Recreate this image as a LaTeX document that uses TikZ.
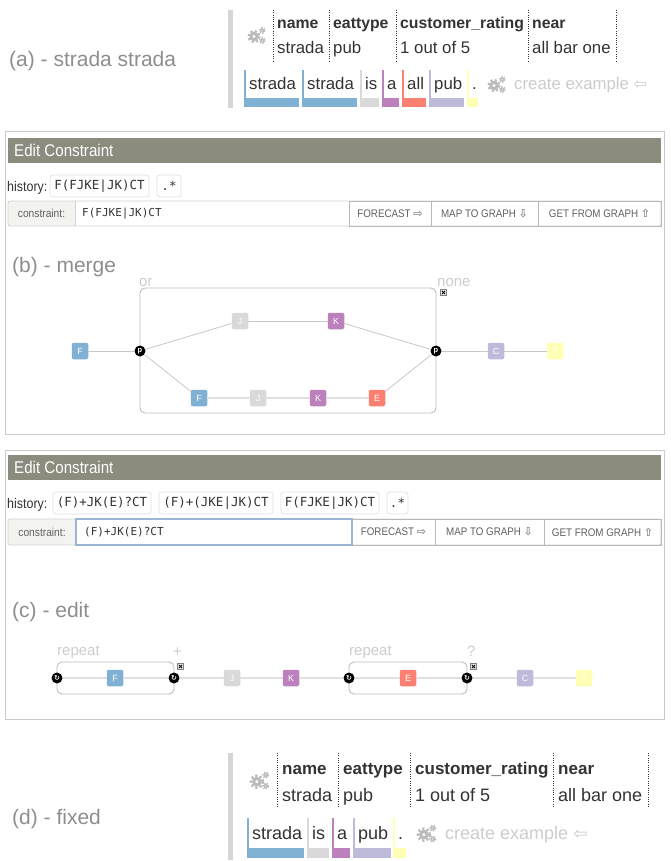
\documentclass[tikz,border=0pt]{standalone}
\usepackage{fontspec}
\setmainfont{Liberation Sans}
\newfontfamily\condfont[FakeStretch=0.89]{Liberation Sans}
\newfontfamily\monofnt{DejaVu Sans Mono}
\newfontfamily\symfnt{DejaVu Sans}
\newcommand\fsz[1]{\fontsize{#1}{#1}\selectfont}
\definecolor{colF}{HTML}{80B1D3}
\definecolor{colJ}{HTML}{D9D9D9}
\definecolor{colK}{HTML}{BC80BD}
\definecolor{colE}{HTML}{FB8072}
\definecolor{colC}{HTML}{BEBADA}
\definecolor{colT}{HTML}{FFFFB3}
\definecolor{hdrbar}{HTML}{8B8B7E}
\definecolor{panelb}{HTML}{CACACA}
\definecolor{labgray}{HTML}{8E8E8E}
\definecolor{faint}{HTML}{CDCDCD}
\definecolor{txt}{HTML}{333333}
\definecolor{cog}{HTML}{BBBBBB}
\definecolor{chipb}{HTML}{E2E2E2}
\definecolor{cellbg}{HTML}{F3F3F0}
\definecolor{rowb}{HTML}{D2D2D2}
\definecolor{btnb}{HTML}{B8B8B8}
\definecolor{btntxt}{HTML}{606060}
\definecolor{fieldb}{HTML}{9DB6D8}
\definecolor{edgeg}{HTML}{C8C8C8}
\definecolor{thickg}{HTML}{E0E0E0}
\definecolor{grpb}{HTML}{BDBDBD}
\definecolor{barg}{HTML}{D6D6D6}
\tikzset{
  plabel/.style={anchor=base west, inner sep=0pt, text=labgray, font=\fsz{21}},
  hdrtext/.style={anchor=base west, inner sep=0pt, text=white, font=\condfont\fsz{17}},
  histtext/.style={anchor=base west, inner sep=0pt, text=txt, font=\condfont\fsz{14}},
  chip/.style={draw=chipb, line width=0.8pt, rounded corners=3pt, minimum height=22pt, inner sep=0pt, text=txt, font=\monofnt\fsz{12.5}},
  celltext/.style={inner sep=0pt, text=btntxt, font=\condfont\fsz{11.5}},
  fieldtext/.style={anchor=west, inner sep=0pt, text=txt, font=\monofnt\fsz{11}},
  btntext/.style={inner sep=0pt, text=btntxt, font=\condfont\fsz{11}},
  gnode/.style={rectangle, rounded corners=2pt, minimum width=16.5pt, minimum height=16.5pt, inner sep=0pt, text=white, font=\fsz{9}},
  junc/.style={circle, fill=black, minimum size=11pt, inner sep=0pt, text=white, font=\bfseries\fsz{7.5}},
  juncc/.style={circle, fill=black, minimum size=11pt, inner sep=0pt, text=white, font=\symfnt\bfseries\fsz{7}},
  edge/.style={draw=edgeg, line width=0.8pt},
  fatedge/.style={draw=thickg, line width=2.4pt},
  grp/.style={draw=grpb, line width=0.9pt, rounded corners=5pt},
  faintlbl/.style={anchor=base west, inner sep=0pt, text=faint, font=\fsz{15}},
  xbox/.style={rectangle, draw=gray, fill=gray!12, line width=0.6pt, minimum size=6.5pt, inner sep=0pt,
    path picture={\draw[black, line width=0.9pt]
      ([shift={(1.6pt,1.6pt)}]path picture bounding box.south west) -- ([shift={(-1.6pt,-1.6pt)}]path picture bounding box.north east)
      ([shift={(1.6pt,-1.6pt)}]path picture bounding box.north west) -- ([shift={(-1.6pt,1.6pt)}]path picture bounding box.south east);}},
  panel/.style={draw=panelb, line width=1pt},
  dotline/.style={draw=txt, line width=0.8pt, dash pattern=on 0.9pt off 1.4pt},
  hdrA/.style={anchor=base west, inner sep=0pt, text=txt, font=\bfseries\fsz{15.8}},
  valA/.style={anchor=base west, inner sep=0pt, text=txt, font=\fsz{16.8}},
  hdrD/.style={anchor=base west, inner sep=0pt, text=txt, font=\bfseries\fsz{17}},
  valD/.style={anchor=base west, inner sep=0pt, text=txt, font=\fsz{18}},
  cogs/.pic={
    \fill[cog, even odd rule] (-2,1.5) circle (4.6) (-2,1.5) circle (1.8);
    \draw[cog, line width=2.4pt, dash pattern=on 2.2pt off 2.2pt] (-2,1.5) circle (5.6);
    \fill[cog, even odd rule] (6.3,-4.6) circle (2.1) (6.3,-4.6) circle (0.8);
    \draw[cog, line width=1.4pt, dash pattern=on 1.4pt off 1.43pt] (6.3,-4.6) circle (2.7);
    \fill[cog, even odd rule] (6.3,5.6) circle (2.1) (6.3,5.6) circle (0.8);
    \draw[cog, line width=1.4pt, dash pattern=on 1.4pt off 1.43pt] (6.3,5.6) circle (2.7);
  }
}
\begin{document}
\begin{tikzpicture}[x=1pt,y=-1pt]
\useasboundingbox (0,0) rectangle (670,861);
\fill[white] (0,0) rectangle (670,861);

% ---------------- (a)
\node[plabel] (la) at (9,66.5) {(a) - strada strada};
\fill[barg] (228,10) rectangle (233,108);
\pic (ga) at (256,35) {cogs};
\foreach \xx in {273,329,396,528,616} { \draw[dotline] (\xx,10) -- (\xx,61); }
\node[hdrA] (ah1) at (277,28.5) {name};
\node[hdrA] (ah2) at (333,28.5) {eattype};
\node[hdrA] (ah3) at (400,28.5) {customer\_rating};
\node[hdrA] (ah4) at (532,28.5) {near};
\node[valA] (av1) at (277,54) {strada};
\node[valA] (av2) at (333,54) {pub};
\node[valA] (av3) at (400,54) {1 out of 5};
\node[valA] (av4) at (532,54) {all bar one};
\foreach \n/\a/\b/\col/\w in {ta1/244/299/colF/strada, ta2/302/357/colF/strada, ta3/360/379/colJ/is, ta4/382/399/colK/a, ta5/402/426/colE/all, ta6/429/464/colC/pub, ta7/467/478/colT/.} {
  \fill[\col] (\a,98) rectangle (\b,107);
  \fill[\col] (\a,70) rectangle (\a+2,107);
  \node[valA] (\n) at (\a+5,89.5) {\w};
}
\pic (gb) at (496,84) {cogs};
\node[anchor=base west, inner sep=0pt, text=faint, font=\fsz{16.8}] (cea) at (514,89.5) {create example {\symfnt\fsz{16}⇦}};

% ---------------- (b)
\draw[panel] (5,132) rectangle (664,434);
\fill[hdrbar] (8,138) rectangle (661,163);
\node[hdrtext] (hdb) at (14,157) {Edit Constraint};
\node[histtext] (hib) at (7,191) {history:};
\node[chip, minimum width=99pt] (hb1) at (99.5,186) {F(FJKE|JK)CT};
\node[chip, minimum width=24pt] (hb2) at (169,186) {.*};
\fill[cellbg] (8,201) rectangle (75,226);
\draw[rowb, line width=0.8pt, rounded corners=2pt] (8,201) rectangle (661,226);
\draw[rowb, line width=0.8pt] (75,201) -- (75,226);
\draw[btnb, line width=0.8pt] (349,201) rectangle (661,226);
\draw[btnb, line width=0.8pt] (431,201) -- (431,226);
\draw[btnb, line width=0.8pt] (538,201) -- (538,226);
\node[celltext] (clb) at (41.5,213.5) {constraint:};
\node[fieldtext] (cfb) at (82,213.5) {F(FJKE|JK)CT};
\node[btntext] (bb1) at (390,213.5) {FORECAST {\symfnt\fsz{11}⇨}};
\node[btntext] (bb2) at (484.5,213.5) {MAP TO GRAPH {\symfnt\fsz{11}⇩}};
\node[btntext] (bb3) at (599.5,213.5) {GET FROM GRAPH {\symfnt\fsz{11}⇧}};

\node[plabel] (lb) at (12,272) {(b) - merge};
\draw[grp] (140,288) rectangle (436,413);
\node[faintlbl] (orl) at (139,286.5) {or};
\node[faintlbl] (nonel) at (437,286.5) {none};
\node[xbox] (xb) at (443.5,292.5) {};
\node[gnode, fill=colF] (bF0) at (80,351) {F};
\node[junc] (bjl) at (140,351) {p};
\node[gnode, fill=colJ] (bJ1) at (240,321) {J};
\node[gnode, fill=colK] (bK1) at (336,321) {K};
\node[gnode, fill=colF] (bF2) at (199,398) {F};
\node[gnode, fill=colJ] (bJ2) at (258,398) {J};
\node[gnode, fill=colK] (bK2) at (318,398) {K};
\node[gnode, fill=colE] (bE2) at (377,398) {E};
\node[junc] (bjr) at (436,351) {p};
\node[gnode, fill=colC] (bC) at (496,351) {C};
\node[gnode, fill=colT] (bT) at (555,351) {T};
\foreach \p/\q in {bF0/bjl, bjl/bJ1, bJ1/bK1, bK1/bjr, bjl/bF2, bE2/bjr, bjr/bC, bC/bT} { \draw[edge] (\p) -- (\q); }
\foreach \p/\q in {bF2/bJ2, bJ2/bK2, bK2/bE2} { \draw[fatedge] (\p) -- (\q); }

% ---------------- (c)
\draw[panel] (5,450) rectangle (664,719);
\fill[hdrbar] (8,455) rectangle (661,480);
\node[hdrtext] (hdc) at (14,473.5) {Edit Constraint};
\node[histtext] (hic) at (7,508) {history:};
\node[chip, minimum width=98pt] (hc1) at (102,503) {(F)+JK(E)?CT};
\node[chip, minimum width=114pt] (hc2) at (216,503) {(F)+(JKE|JK)CT};
\node[chip, minimum width=98pt] (hc3) at (330,503) {F(FJKE|JK)CT};
\node[chip, minimum width=21pt] (hc4) at (397.5,503) {.*};
\fill[cellbg] (8,519) rectangle (76,545);
\draw[rowb, line width=0.8pt, rounded corners=2pt] (8,519) rectangle (661,545);
\draw[btnb, line width=0.8pt] (352,519) rectangle (661,545);
\draw[btnb, line width=0.8pt] (435,519) -- (435,545);
\draw[btnb, line width=0.8pt] (544,519) -- (544,545);
\draw[fieldb, line width=1.3pt] (76,519) rectangle (352,545);
\node[celltext] (clc) at (42,532) {constraint:};
\node[fieldtext] (cfc) at (84,532) {(F)+JK(E)?CT};
\node[btntext] (bc1) at (393.5,532) {FORECAST {\symfnt\fsz{11}⇨}};
\node[btntext] (bc2) at (489.5,532) {MAP TO GRAPH {\symfnt\fsz{11}⇩}};
\node[btntext] (bc3) at (602.5,532) {GET FROM GRAPH {\symfnt\fsz{11}⇧}};

\node[plabel] (lc) at (12,617) {(c) - edit};
\draw[grp] (57,662) rectangle (174,694);
\draw[grp] (349,662) rectangle (467,694);
\node[faintlbl] (rp1) at (57,655.5) {repeat};
\node[faintlbl] (plusl) at (173,656) {+};
\node[xbox] (xc1) at (180.5,666.5) {};
\node[faintlbl] (rp2) at (349,655.5) {repeat};
\node[faintlbl] (ql) at (467,656) {?};
\node[xbox] (xc2) at (473.5,666.5) {};
\node[juncc] (cj1) at (57,678) {↻};
\node[gnode, fill=colF] (cF) at (115,678) {F};
\node[juncc] (cj2) at (174,678) {↻};
\node[gnode, fill=colJ] (cJ) at (232,678) {J};
\node[gnode, fill=colK] (cK) at (291,678) {K};
\node[juncc] (cj3) at (349,678) {↻};
\node[gnode, fill=colE] (cE) at (408,678) {E};
\node[juncc] (cj4) at (467,678) {↻};
\node[gnode, fill=colC] (cC) at (525,678) {C};
\node[gnode, fill=colT] (cT) at (584,678) {T};
\foreach \p/\q in {cj1/cF, cF/cj2, cj2/cJ, cJ/cK, cK/cj3, cj3/cE, cE/cj4, cj4/cC, cC/cT} { \draw[fatedge] (\p) -- (\q); }

% ---------------- (d)
\node[plabel] (ld) at (12,824) {(d) - fixed};
\fill[barg] (228,753) rectangle (233,860);
\pic[scale=1.07] (gd) at (259,780) {cogs};
\foreach \xx in {277,338,410,553,648} { \draw[dotline] (\xx,753) -- (\xx,808); }
\node[hdrD] (dh1) at (282,774) {name};
\node[hdrD] (dh2) at (343,774) {eattype};
\node[hdrD] (dh3) at (415,774) {customer\_rating};
\node[hdrD] (dh4) at (558,774) {near};
\node[valD] (dv1) at (282,801) {strada};
\node[valD] (dv2) at (343,801) {pub};
\node[valD] (dv3) at (415,801) {1 out of 5};
\node[valD] (dv4) at (558,801) {all bar one};
\foreach \n/\a/\b/\col/\w in {td1/247/304/colF/strada, td2/307/329/colJ/is, td3/332/350/colK/a, td4/353/391/colC/pub, td5/393/406/colT/.} {
  \fill[\col] (\a,848) rectangle (\b,858);
  \fill[\col] (\a,818) rectangle (\a+2,858);
  \node[valD] (\n) at (\a+5,839) {\w};
}
\pic[scale=1.07] (ge) at (426,833) {cogs};
\node[anchor=base west, inner sep=0pt, text=faint, font=\fsz{18}] (ced) at (445,839) {create example {\symfnt\fsz{17}⇦}};
\end{tikzpicture}
\end{document}
